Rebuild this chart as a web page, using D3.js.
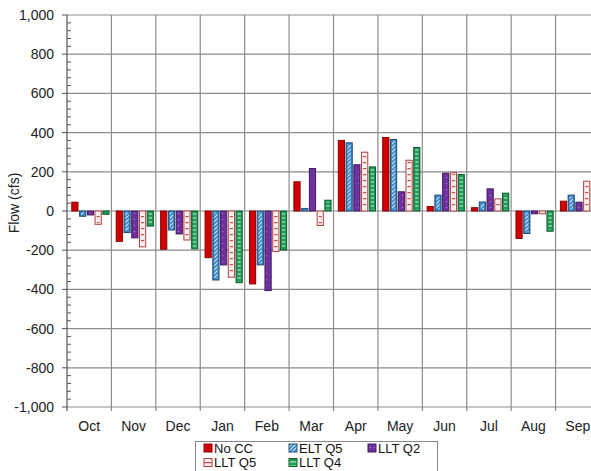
<!DOCTYPE html>
<html><head><meta charset="utf-8">
<script src="https://cdn.jsdelivr.net/npm/d3@7"></script>
<style>body{margin:0;background:#fff}svg{display:block;font-family:"Liberation Sans",Arial,sans-serif}</style>
</head><body><svg id="c" width="591" height="471"></svg>
<script>
const months = ["Oct","Nov","Dec","Jan","Feb","Mar","Apr","May","Jun","Jul","Aug","Sep"];
const seriesNames = ["No CC","ELT Q5","LLT Q2","LLT Q5","LLT Q4"];
const noCC  = [45,-155,-195,-238,-372,149,360,375,23,17,-140,50];
const eltQ5 = [-27,-110,-97,-352,-275,13,348,365,81,46,-115,81];
const lltQ2 = [-20,-137,-117,-275,-406,217,236,98,193,113,-14,45];
const lltQ5 = [-68,-183,-148,-338,-207,-74,300,259,195,62,-14,152];
const lltQ4 = [-17,-77,-193,-366,-199,55,225,324,186,91,-103,120];
const yTicks = [-1000,-800,-600,-400,-200,0,200,400,600,800,1000];
const seriesValues = [noCC,eltQ5,lltQ2,lltQ5,lltQ4];

const svg = d3.select("#c");
const defs = svg.append("defs");
// patterns
const pBlue = defs.append("pattern").attr("id","pBlue").attr("patternUnits","userSpaceOnUse").attr("width",4).attr("height",4);
pBlue.append("rect").attr("width",4).attr("height",4).attr("fill","#3d86c6");
pBlue.append("path").attr("d","M-1,1 l2,-2 M0,4 l4,-4 M3,5 l2,-2").attr("stroke","#d8ecfa").attr("stroke-width",1.1);
const pPurple = defs.append("pattern").attr("id","pPurple").attr("patternUnits","userSpaceOnUse").attr("width",4).attr("height",6);
pPurple.append("rect").attr("width",4).attr("height",6).attr("fill","#7030a0");
pPurple.append("rect").attr("x",2).attr("y",3).attr("width",1).attr("height",1).attr("fill","#b58fd0");
const pPink = defs.append("pattern").attr("id","pPink").attr("patternUnits","userSpaceOnUse").attr("width",4).attr("height",6);
pPink.append("rect").attr("width",4).attr("height",6).attr("fill","#fbeeee");
pPink.append("rect").attr("y",0).attr("width",4).attr("height",1.2).attr("fill","#c0504d");
const pGreen = defs.append("pattern").attr("id","pGreen").attr("patternUnits","userSpaceOnUse").attr("width",4).attr("height",4);
pGreen.append("rect").attr("width",4).attr("height",4).attr("fill","#1f9a55");
pGreen.append("rect").attr("y",1.5).attr("width",4).attr("height",1).attr("fill","#d9f2e2");

const styles = [
  {fill:"#d00000", inner:null, stroke:"#8a0000"},
  {fill:"#3d86c6", inner:"url(#pBlue)", stroke:"#1f4e79"},
  {fill:"#7030a0", inner:"url(#pPurple)", stroke:"#3d1a5c"},
  {fill:"#fbeeee", inner:"url(#pPink)", stroke:"#b04040"},
  {fill:"#1f9a55", inner:"url(#pGreen)", stroke:"#0d5e30"}
];

const x0 = d3.scaleBand().domain(months).range([67,600]).padding(0);
const x1 = d3.scaleBand().domain(seriesNames).range([4.8,42]).paddingInner(0.2);
const y = d3.scaleLinear().domain([-1000,1000]).range([407,15]);

// gridlines
const g = svg.append("g");
g.selectAll("line.h").data(yTicks).join("line")
  .attr("x1",67).attr("x2",600).attr("y1",d=>y(d)).attr("y2",d=>y(d))
  .attr("stroke","#8c8c8c").attr("stroke-width",1.2);
g.selectAll("line.v").data(months).join("line")
  .attr("x1",d=>x0(d)+x0.bandwidth()).attr("x2",d=>x0(d)+x0.bandwidth())
  .attr("y1",15).attr("y2",411).attr("stroke","#8c8c8c").attr("stroke-width",1.2);

// bars
const bars = svg.append("g");
seriesNames.forEach((s,si)=>{
  const st = styles[si];
  const data = months.map((m,i)=>({m, v:seriesValues[si][i]}));
  const gs = bars.append("g");
  gs.selectAll("rect.o").data(data).join("rect")
    .attr("x",d=>x0(d.m)+x1(s)).attr("width",x1.bandwidth())
    .attr("y",d=>y(Math.max(0,d.v))).attr("height",d=>Math.abs(y(d.v)-y(0)))
    .attr("fill",st.fill).attr("stroke",st.stroke).attr("stroke-width",1);
  if(st.inner){
    gs.selectAll("rect.i").data(data.filter(d=>Math.abs(y(d.v)-y(0))>3)).join("rect")
      .attr("x",d=>x0(d.m)+x1(s)+1.5).attr("width",x1.bandwidth()-3)
      .attr("y",d=>y(Math.max(0,d.v))+1.5).attr("height",d=>Math.abs(y(d.v)-y(0))-3)
      .attr("fill",st.inner);
  }
});

// y axis
const ax = svg.append("g");
ax.append("line").attr("x1",67).attr("x2",67).attr("y1",15).attr("y2",411).attr("stroke","#555").attr("stroke-width",1.2);
ax.selectAll("line.maj").data(yTicks).join("line")
  .attr("x1",62).attr("x2",67).attr("y1",d=>y(d)).attr("y2",d=>y(d)).attr("stroke","#555");
const minor = d3.range(-1000,1001,40).filter(v=>v%200!==0);
ax.selectAll("line.min").data(minor).join("line")
  .attr("x1",67).attr("x2",71).attr("y1",d=>y(d)).attr("y2",d=>y(d)).attr("stroke","#555");
const fmt = d3.formatLocale({decimal:".",thousands:",",grouping:[3],currency:["",""],minus:"-"}).format(",");
ax.selectAll("text").data(yTicks).join("text")
  .attr("x",54).attr("y",d=>y(d)).attr("dy","0.36em").attr("text-anchor","end")
  .attr("font-size",14).attr("fill","#222").text(d=>fmt(d));

svg.append("text").attr("transform","translate(19,203) rotate(-90)")
  .attr("text-anchor","middle").attr("font-size",14).attr("fill","#222").text("Flow (cfs)");

// x labels
svg.append("g").selectAll("text").data(months).join("text")
  .attr("x",d=>x0(d)+x0.bandwidth()/2).attr("y",431).attr("text-anchor","middle")
  .attr("font-size",14).attr("fill","#222").text(d=>d);

// legend
const leg = svg.append("g");
leg.append("rect").attr("x",195.5).attr("y",441.5).attr("width",242).attr("height",40)
  .attr("fill","#fff").attr("stroke","#888");
const legPos = [[204,448],[289,448],[368,448],[204,462.5],[289,462.5]];
seriesNames.forEach((s,si)=>{
  const st = styles[si];
  const [lx,ly] = legPos[si];
  leg.append("rect").attr("x",lx).attr("y",ly-4).attr("width",8).attr("height",8)
    .attr("fill",st.inner||st.fill).attr("stroke",st.stroke).attr("stroke-width",1);
  leg.append("text").attr("x",lx+10).attr("y",ly).attr("dy","0.36em")
    .attr("font-size",13).attr("fill","#111").text(s);
});
</script></body></html>
